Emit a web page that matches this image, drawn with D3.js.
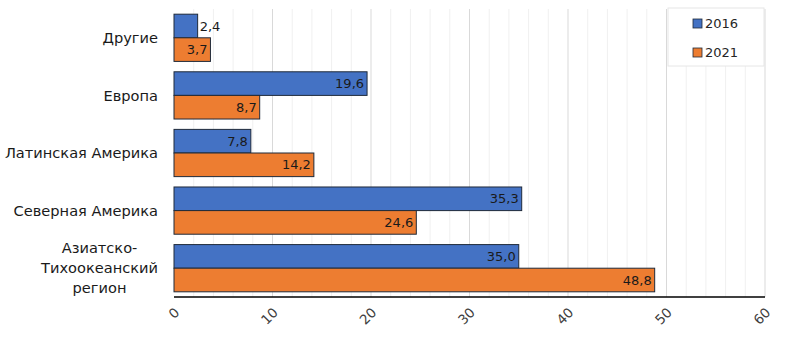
<!DOCTYPE html>
<html>
<head>
<meta charset="utf-8">
<script src="https://cdn.jsdelivr.net/npm/d3@7"></script>
<style>
  body { margin: 0; background: #fff; }
  text { font-family: "Century Gothic", "DejaVu Sans", sans-serif; }
</style>
</head>
<body>
<div id="chart"></div>
<script>
// Data
const regions = ["Другие", "Европа", "Латинская Америка", "Северная Америка", "Азиатско-Тихоокеанский регион"];
const regionLines = [["Другие"], ["Европа"], ["Латинская Америка"], ["Северная Америка"], ["Азиатско-", "Тихоокеанский", "регион"]];
const years = ["2016", "2021"];
const values2016 = [2.4, 19.6, 7.8, 35.3, 35.0];
const values2021 = [3.7, 8.7, 14.2, 24.6, 48.8];
const xTicks = [0, 10, 20, 30, 40, 50, 60];

const width = 788, height = 344;
const margin = {left: 174, right: 23, top: 9, bottom: 47};

const color = d3.scaleOrdinal().domain(years).range(["#4472C4", "#ED7D31"]);

const svg = d3.select("#chart").append("svg")
  .attr("width", width).attr("height", height);

const xScale = d3.scaleLinear().domain([0, 60]).range([margin.left, width - margin.right]);
const yScale = d3.scaleBand().domain(regions)
  .range([margin.top, height - margin.bottom])
  .paddingInner(0.18).paddingOuter(0.09);
const ySub = d3.scaleBand().domain(years).range([0, yScale.bandwidth()]);

// minor gridlines every 2
svg.append("g").selectAll("line")
  .data(d3.range(2, 61, 2).filter(v => v % 10 !== 0))
  .enter().append("line")
  .attr("x1", d => xScale(d)).attr("x2", d => xScale(d))
  .attr("y1", margin.top).attr("y2", height - margin.bottom)
  .attr("stroke", "#f0f0f0").attr("stroke-width", 1);

// major gridlines
svg.append("g").selectAll("line")
  .data(xTicks.slice(1))
  .enter().append("line")
  .attr("x1", d => xScale(d)).attr("x2", d => xScale(d))
  .attr("y1", margin.top).attr("y2", height - margin.bottom)
  .attr("stroke", "#d9d9d9").attr("stroke-width", 1);

// bars
const rows = regions.map((r, i) => ({region: r, vals: [
  {year: "2016", v: values2016[i]}, {year: "2021", v: values2021[i]}
]}));

const groups = svg.selectAll(".grp").data(rows).enter().append("g")
  .attr("transform", d => `translate(0,${yScale(d.region)})`);

groups.selectAll("rect").data(d => d.vals).enter().append("rect")
  .attr("x", xScale(0))
  .attr("y", d => ySub(d.year))
  .attr("width", d => xScale(d.v) - xScale(0))
  .attr("height", ySub.bandwidth())
  .attr("fill", d => color(d.year))
  .attr("stroke", "#1f2a3a").attr("stroke-width", 1);

const fmt = v => d3.format(".1f")(v).replace(".", ",");
const small = d => (xScale(d.v) - xScale(0)) < 30;

groups.selectAll(".lbl").data(d => d.vals).enter().append("text")
  .attr("class", "lbl")
  .attr("x", d => small(d) ? xScale(d.v) + 2 : xScale(d.v) - 3)
  .attr("y", d => ySub(d.year) + ySub.bandwidth() / 2)
  .attr("dy", "0.36em")
  .attr("text-anchor", d => small(d) ? "start" : "end")
  .attr("font-size", "13px")
  .attr("fill", "#1a1a1a")
  .text(d => fmt(d.v));

// x axis
svg.append("line")
  .attr("x1", xScale(0)).attr("x2", xScale(60))
  .attr("y1", height - margin.bottom).attr("y2", height - margin.bottom)
  .attr("stroke", "#000").attr("stroke-width", 1.5);

svg.append("g").selectAll("text").data(xTicks).enter().append("text")
  .attr("transform", d => `translate(${xScale(d) + 3},${height - margin.bottom + 13}) rotate(-45)`)
  .attr("text-anchor", "end")
  .attr("dy", "0.36em")
  .attr("font-size", "13.5px")
  .attr("fill", "#404040")
  .text(d => d);

// y labels
const yl = svg.append("g").selectAll("text").data(regions).enter().append("text")
  .attr("font-size", "14.6px")
  .attr("fill", "#1a1a1a")
  .attr("transform", (d) => `translate(158,${yScale(d) + yScale.bandwidth() / 2})`);

yl.each(function(d, i) {
  const lines = regionLines[i];
  const lh = 20;
  const off = -(lines.length - 1) * lh / 2;
  const t = d3.select(this);
  if (lines.length === 1) {
    t.attr("text-anchor", "end").attr("dy", "0.36em").text(lines[0]);
    return;
  }
  t.attr("text-anchor", "middle");
  const spans = t.selectAll("tspan").data(lines).enter().append("tspan")
    .attr("y", (l, j) => off + j * lh)
    .attr("dy", "0.36em")
    .text(l => l);
  let maxW = 0;
  spans.each(function() { maxW = Math.max(maxW, this.getComputedTextLength()); });
  spans.attr("x", -maxW / 2);
});

// legend
const lg = svg.append("g").attr("transform", "translate(668,8)");
lg.append("rect").attr("width", 96).attr("height", 58)
  .attr("fill", "#fff").attr("stroke", "#e6e6e6");
years.forEach((y, i) => {
  lg.append("rect").attr("x", 25).attr("y", 11 + i * 29).attr("width", 9).attr("height", 9)
    .attr("fill", color(y)).attr("stroke", "#1f2a3a").attr("stroke-width", 0.8);
  lg.append("text").attr("x", 37).attr("y", 15.5 + i * 29).attr("dy", "0.36em")
    .attr("font-size", "13px").attr("fill", "#262626").text(y);
});
</script>
</body>
</html>
